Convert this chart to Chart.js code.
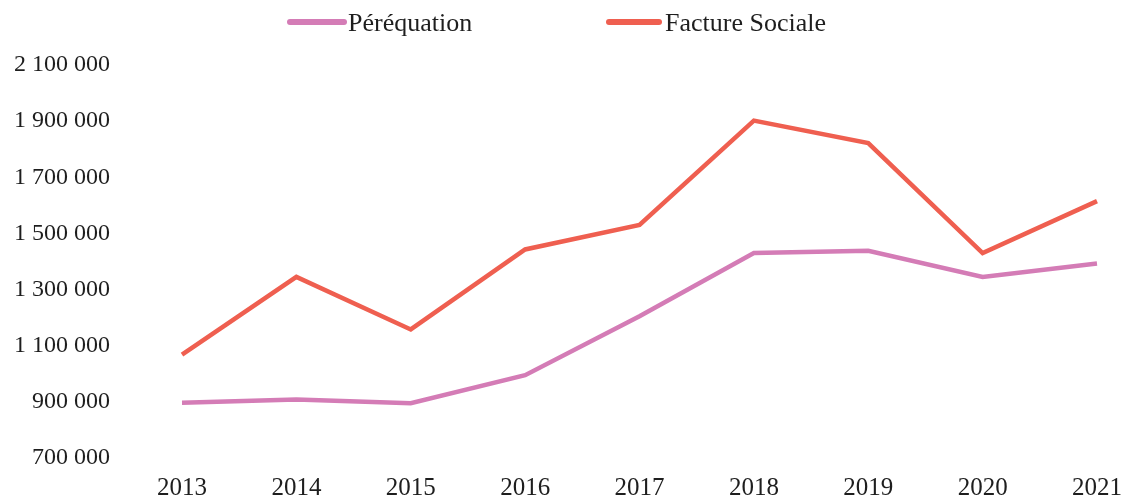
<!DOCTYPE html>
<html>
<head>
<meta charset="utf-8">
<script src="https://cdn.jsdelivr.net/npm/chart.js@4/dist/chart.umd.min.js"></script>
<style>
html,body{margin:0;padding:0;background:#fff;}
#wrap{width:1123px;height:501px;position:relative;}
</style>
</head>
<body>
<div id="wrap"><canvas id="c" width="1123" height="501"></canvas></div>
<script>
const years = ['2013','2014','2015','2016','2017','2018','2019','2020','2021'];
const perequation = [897000, 908000, 895000, 995000, 1205000, 1430000, 1438000, 1345000, 1393000];
const factureSociale = [1068000, 1345000, 1158000, 1443000, 1530000, 1902000, 1822000, 1430000, 1615000];
const yTicks = [700000, 900000, 1100000, 1300000, 1500000, 1700000, 1900000, 2100000];
const seriesNames = ['Péréquation', 'Facture Sociale'];
const seriesColors = ['#d47cb6', '#ef5f50'];

const fmt = v => String(v).replace(/\B(?=(\d{3})+(?!\d))/g, ' ');
const FONT = "'Liberation Serif', 'Times New Roman', serif";

// Custom legend: short thick line immediately followed by the label
const lineLegend = {
  id: 'lineLegend',
  afterDraw(chart) {
    const ctx = chart.ctx;
    const items = [{ x1: 290, x2: 344, tx: 348 }, { x1: 609, x2: 659, tx: 665 }];
    ctx.save();
    ctx.font = '26px ' + FONT;
    ctx.textBaseline = 'middle';
    ctx.textAlign = 'left';
    chart.data.datasets.forEach((d, i) => {
      const it = items[i];
      ctx.strokeStyle = d.borderColor;
      ctx.lineWidth = 6;
      ctx.lineCap = 'round';
      ctx.beginPath();
      ctx.moveTo(it.x1, 22);
      ctx.lineTo(it.x2, 22);
      ctx.stroke();
      ctx.fillStyle = '#1e1e1e';
      ctx.fillText(d.label, it.tx, 24);
    });
    ctx.restore();
  }
};

new Chart(document.getElementById('c'), {
  type: 'line',
  data: {
    labels: years,
    datasets: [
      { label: seriesNames[0], data: perequation, borderColor: seriesColors[0], backgroundColor: seriesColors[0], borderWidth: 4.5, pointRadius: 0, tension: 0 },
      { label: seriesNames[1], data: factureSociale, borderColor: seriesColors[1], backgroundColor: seriesColors[1], borderWidth: 4.5, pointRadius: 0, tension: 0 }
    ]
  },
  plugins: [lineLegend],
  options: {
    responsive: false,
    animation: false,
    layout: { padding: { left: 0, right: 26, top: 65, bottom: 0 } },
    plugins: {
      legend: { display: false },
      tooltip: { enabled: false }
    },
    scales: {
      x: {
        grid: { display: false },
        border: { display: false },
        offset: false,
        afterFit(scale) { scale.height = 43; scale.paddingLeft = 0; scale.paddingRight = 0; },
        ticks: { font: { family: FONT, size: 25 }, color: '#1e1e1e', padding: 7, maxRotation: 0 }
      },
      y: {
        min: 700000, max: 2100000,
        grid: { display: false },
        border: { display: false },
        afterFit(scale) { scale.width = 182; scale.paddingTop = 0; scale.paddingBottom = 0; },
        afterBuildTicks(scale) { scale.ticks = yTicks.map(v => ({ value: v })); },
        ticks: { font: { family: FONT, size: 24 }, color: '#1e1e1e', padding: 64, callback: v => fmt(v) }
      }
    }
  }
});
</script>
</body>
</html>
